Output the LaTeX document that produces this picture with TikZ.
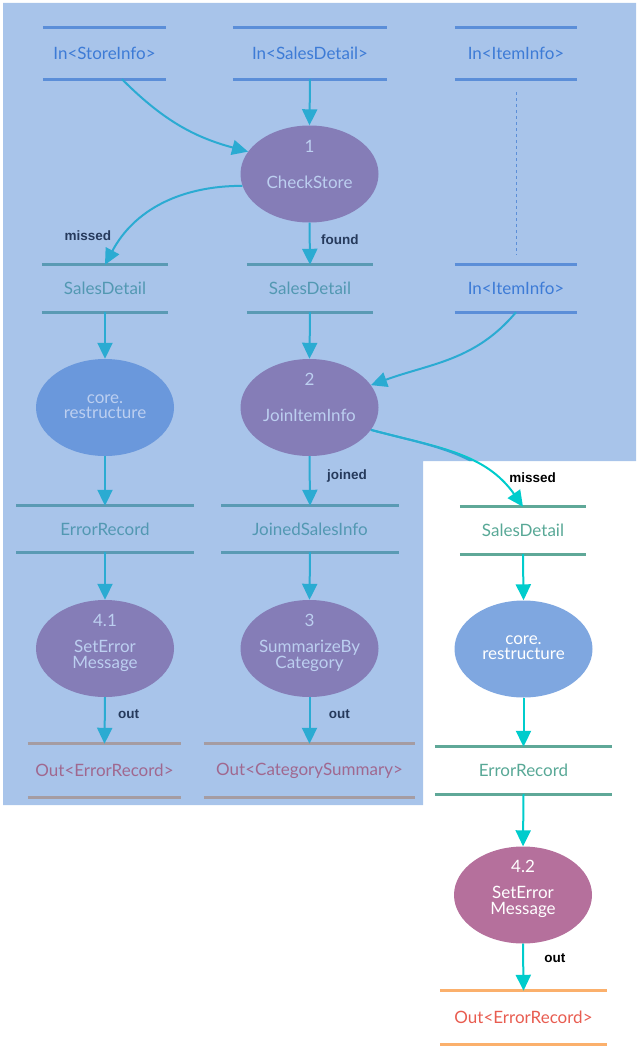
\documentclass[tikz,border=0pt]{standalone}
\usepackage{fontspec}
\setmainfont{Lato}
\newfontfamily\flowfont{Liberation Sans}
\usetikzlibrary{arrows.meta, shapes.geometric, positioning}

\definecolor{bgblue}{HTML}{A8C4EA}
\definecolor{inline}{HTML}{5B8ED8}
\definecolor{intext}{HTML}{3D7BD6}
\definecolor{tealline}{HTML}{5A9AB4}
\definecolor{tealtext}{HTML}{5298B2}
\definecolor{greyline}{HTML}{A59CA2}
\definecolor{outtext}{HTML}{A0688F}
\definecolor{greenline}{HTML}{5FA898}
\definecolor{greentext}{HTML}{58A896}
\definecolor{orangeline}{HTML}{FBB06C}
\definecolor{redtext}{HTML}{E85C50}
\definecolor{procpurple}{HTML}{857DB7}
\definecolor{procblue}{HTML}{6A98DC}
\definecolor{proclight}{HTML}{7FA7E0}
\definecolor{procpink}{HTML}{B5709C}
\definecolor{proctext}{HTML}{BCCFF0}
\definecolor{flowblue}{HTML}{2BABD2}
\definecolor{flowcyan}{HTML}{00CCCC}
\definecolor{labelnavy}{HTML}{263A5C}

\begin{document}
\begin{tikzpicture}[
      x=1pt, y=-1pt, >={Triangle[length=16pt, width=15pt]},
      store/.style 2 args={minimum width=#1, minimum height=#2, inner sep=0pt,
        font=\fontsize{17}{19}\selectfont},
      proc/.style={ellipse, fill=#1, minimum width=138pt, minimum height=97pt, inner sep=0pt},
      proctxt/.style={align=center, font=\fontsize{17}{19}\selectfont, text=proctext},
      flow/.style={->, line width=2pt, draw=flowblue},
      flowlabel/.style={font=\flowfont\bfseries\fontsize{13.5}{15}\selectfont, text=labelnavy},
      ]

      \useasboundingbox (0,0) rectangle (640,1054);
      \fill[bgblue] (3,3) -- (636,3) -- (636,461) -- (423,461) -- (423,805) -- (3,805) -- cycle;

      % data stores
      \node[store={123}{51}, text=intext] (sinStore) at (104.5,53.5) {In<StoreInfo>};
      \node[store={154}{51}, text=intext] (sinSales) at (310,53.5) {In<SalesDetail>};
      \node[store={122}{51}, text=intext] (sinItemA) at (516,53.5) {In<ItemInfo>};
      \node[store={122}{47}, text=intext] (sinItemB) at (516,288.5) {In<ItemInfo>};
      \node[store={126}{47}, text=tealtext] (sdMissed) at (105,288.5) {SalesDetail};
      \node[store={126}{47}, text=tealtext] (sdFound) at (310,288.5) {SalesDetail};
      \node[store={177}{46}, text=tealtext] (errA) at (105,529) {ErrorRecord};
      \node[store={177}{46}, text=tealtext] (joined) at (310,529) {JoinedSalesInfo};
      \node[store={153}{53}, text=outtext] (outErrA) at (104.5,770.5) {Out<ErrorRecord>};
      \node[store={211}{53}, text=outtext] (outSum) at (309.5,770.5) {Out<CategorySummary>};
      \node[store={126}{47}, text=greentext] (sdRight) at (523,530.5) {SalesDetail};
      \node[store={177}{47}, text=greentext] (errB) at (523.5,770.5) {ErrorRecord};
      \node[store={167}{53}, text=redtext] (outErrB) at (523.5,1017.5) {Out<ErrorRecord>};

      \foreach \s in {sinStore, sinSales, sinItemA, sinItemB}
        \draw[inline, line width=3pt] (\s.north west) -- (\s.north east) (\s.south west) -- (\s.south east);
      \foreach \s in {sdMissed, sdFound, errA, joined}
        \draw[tealline, line width=3pt] (\s.north west) -- (\s.north east) (\s.south west) -- (\s.south east);
      \foreach \s in {outErrA, outSum}
        \draw[greyline, line width=3pt] (\s.north west) -- (\s.north east) (\s.south west) -- (\s.south east);
      \foreach \s in {sdRight, errB}
        \draw[greenline, line width=3pt] (\s.north west) -- (\s.north east) (\s.south west) -- (\s.south east);
      \draw[orangeline, line width=3pt] (outErrB.north west) -- (outErrB.north east)
        (outErrB.south west) -- (outErrB.south east);

      % processes
      \node[proc=procpurple, label={[proctxt, yshift=10pt]center:{1\\[17pt]CheckStore}}] (check) at (309.5,174) {};
      \node[proc=procpurple, label={[proctxt, yshift=10pt]center:{2\\[17pt]JoinItemInfo}}] (joinP) at (309.5,407.5) {};
      \node[proc=procblue, label={[proctxt, yshift=1pt]center:{core.\\[-4pt]restructure}}] (coreA) at (105,407.5) {};
      \node[proc=procpurple, label={[proctxt, yshift=6pt]center:{4.1\\[7pt]SetError\\[-3pt]Message}}] (errMsgA) at (105,648.5) {};
      \node[proc=procpurple, label={[proctxt, yshift=6pt]center:{3\\[7pt]SummarizeBy\\[-3pt]Category}}] (summ) at (309.5,648.5) {};
      \node[proc=proclight, label={[proctxt, text=white, yshift=1pt]center:{core.\\[-4pt]restructure}}] (coreB) at (523.5,649) {};
      \node[proc=procpink, label={[proctxt, text=white, yshift=6pt]center:{4.2\\[7pt]SetError\\[-3pt]Message}}] (errMsgB) at (523,895) {};

      % flows
      \draw[inline, line width=0.8pt, dash pattern=on 3pt off 3pt, shorten <=13pt, shorten >=10pt]
        (sinItemA.south) -- (sinItemB.north);
      \draw[flow] ([xshift=17.5pt]sinStore.south) to[out=-45, in=165] (check.160);
      \draw[flow] (sinSales.south) -- (check.north);
      \draw[flow] (check.190) to[out=180, in=62] node[flowlabel, pos=0.8, left=9pt] {missed} (sdMissed.north);
      \draw[flow] (check.south) -- node[flowlabel, pos=0.4, right=7pt] {found} (sdFound.north);
      \draw[flow] (sdMissed.south) -- (coreA.north);
      \draw[flow] (sdFound.south) -- (joinP.north);
      \draw[flow] (sinItemB.south) to[out=-130, in=20] (joinP.20);
      \draw[flow] (coreA.south) -- (errA.north);
      \draw[flow] (joinP.south) -- node[flowlabel, pos=0.4, right=13pt] {joined} (joined.north);
      \draw[flow] (errA.south) -- (errMsgA.north);
      \draw[flow] (joined.south) -- (summ.north);
      \draw[flow] (errMsgA.south) -- node[flowlabel, pos=0.37, right=9pt] {out} (outErrA.north);
      \draw[flow] (summ.south) -- node[flowlabel, pos=0.37, right=15pt] {out} (outSum.north);

      \draw[flow, draw=flowcyan] (joinP.-20) to[out=-15, in=125]
        node[flowlabel, text=black, pos=0.78, right=9pt] {missed} (sdRight.north);
      \begin{scope}
        \clip (3,3) -- (636,3) -- (636,461) -- (423,461) -- (423,805) -- (3,805) -- cycle;
        \draw[flowblue, line width=2pt] (joinP.-20) to[out=-15, in=125] (sdRight.north);
      \end{scope}
      \draw[flow, draw=flowcyan] (sdRight.south) -- (coreB.north);
      \draw[flow, draw=flowcyan] (coreB.south) -- (errB.north);
      \draw[flow, draw=flowcyan] (errB.south) -- (errMsgB.north);
      \draw[flow, draw=flowcyan] (errMsgB.south) -- node[flowlabel, text=black, pos=0.3, right=17pt] {out} (outErrB.north);
    \end{tikzpicture}
\end{document}
